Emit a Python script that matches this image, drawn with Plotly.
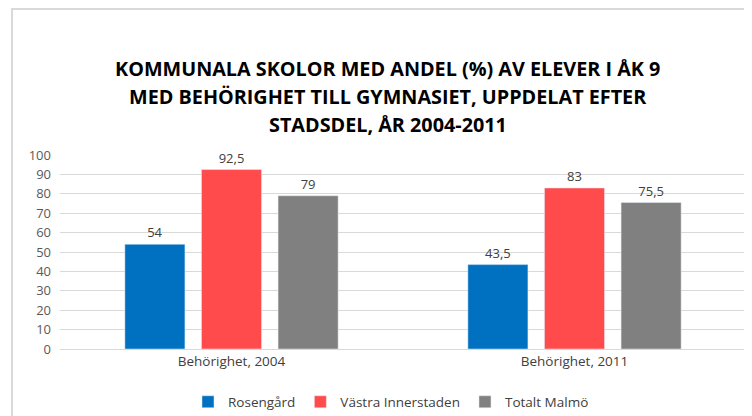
import plotly.graph_objects as go

categories = ["Behörighet, 2004", "Behörighet, 2011"]
series_names = ["Rosengård", "Västra Innerstaden", "Totalt Malmö"]
rosengard = [54, 43.5]
vastra = [92.5, 83]
totalt = [79, 75.5]
colors = ["#0070C0", "#FF4B4B", "#808080"]
title_lines = ["KOMMUNALA SKOLOR MED ANDEL (%) AV ELEVER I ÅK 9",
               "MED BEHÖRIGHET TILL GYMNASIET, UPPDELAT EFTER",
               "STADSDEL, ÅR 2004-2011"]

def fmt(v):
    s = ("%g" % v)
    return s.replace(".", ",")

fig = go.Figure()
for name, vals, col in zip(series_names, [rosengard, vastra, totalt], colors):
    fig.add_trace(go.Bar(
        x=categories, y=vals, name=name, marker_color=col,
        text=[fmt(v) for v in vals], textposition="outside",
        textfont=dict(size=13, color="#404040"), cliponaxis=False,
    ))

title_y = [1.448, 1.304, 1.159]
annotations = [dict(text="<b>" + t + "</b>", xref="paper", yref="paper",
                    x=0.478, y=yy, xanchor="center", yanchor="middle",
                    showarrow=False,
                    font=dict(size=19.8, color="black", family="Open Sans, sans-serif"))
               for t, yy in zip(title_lines, title_y)]

fig.update_layout(
    width=744, height=408,
    margin=dict(l=52, r=6, t=147, b=67, autoexpand=False),
    paper_bgcolor="white", plot_bgcolor="white",
    font=dict(family="Open Sans, Lato, sans-serif", size=12, color="#595959"),
    barmode="group", bargap=0.33, bargroupgap=0.216,
    annotations=annotations,
    showlegend=True,
    legend=dict(orientation="h", x=0.4825, xanchor="center",
                yref="container", y=0.0343, yanchor="middle",
                font=dict(size=13.5, color="#404040"), traceorder="normal"),
    xaxis=dict(showline=True, linecolor="#D9D9D9", linewidth=1, ticks="",
               automargin=False, tickfont=dict(size=13.5, color="#404040")),
    yaxis=dict(range=[0, 100], dtick=10, gridcolor="#D9D9D9", gridwidth=1,
               automargin=False, zeroline=False,
               tickfont=dict(size=13, color="#595959"), ticklabelstandoff=8),
    shapes=[dict(type="rect", xref="paper", yref="paper",
                 x0=-0.07, x1=1.05, y0=-0.5, y1=1.7526,
                 line=dict(color="#D9D9D9", width=2), fillcolor="rgba(0,0,0,0)",
                 layer="below")],
)

fig.write_html("out.html")
